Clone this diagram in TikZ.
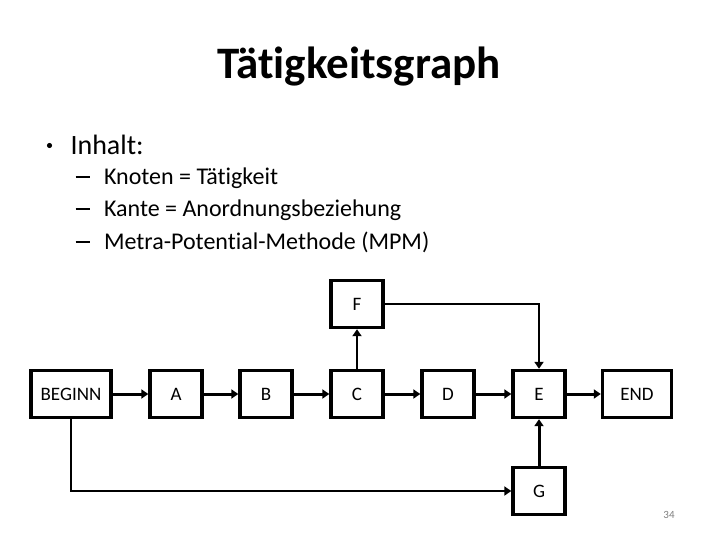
\documentclass[tikz,border=0pt]{standalone}
\usepackage{fontspec}
\setmainfont{Carlito}[Ligatures=NoCommon]
\usetikzlibrary{arrows.meta}
\definecolor{slidegray}{RGB}{128,128,128}
\tikzset{
  act/.style={draw,line width=3.4pt,minimum width=52pt,minimum height=47pt,inner sep=0pt,font=\fontsize{19}{22}\selectfont},
  flow/.style={line width=3pt,-{Triangle[length=7pt,width=9pt]}},
  thinflow/.style={line width=2pt,-{Triangle[length=7pt,width=9pt]}}
}
\begin{document}
\begin{tikzpicture}[x=1pt,y=-1pt]
  \useasboundingbox[fill=white] (0,0) rectangle (720,540);
  \node (title) at (359,67) {\fontsize{45}{50}\selectfont\bfseries Tätigkeitsgraph};
  \fill (49.5,145.5) circle (2.6pt);
  \node[anchor=west] (bul) at (67,145) {\fontsize{28}{32}\selectfont Inhalt:};
  \foreach \t [count=\i] in {Knoten = Tätigkeit,Kante = Anordnungsbeziehung,Metra-Potential-Methode (MPM)}
    \node[anchor=west] (item\i) at (72,146+32*\i) {\fontsize{24}{28}\selectfont \rule[6.5pt]{14pt}{1.4pt}\hspace{14.5pt}\t};
  \node[act,minimum width=80pt] (beginn) at (71,394) {BEGINN};
  \node[act] (a) at (176,394) {A};
  \node[act] (b) at (266,394) {B};
  \node[act] (c) at (357,394) {C};
  \node[act] (d) at (448,394) {D};
  \node[act] (e) at (539,394) {E};
  \node[act,minimum width=69pt] (end) at (637,394) {END};
  \node[act] (f) at (357,304) {F};
  \node[act] (g) at (539,491) {G};
  \foreach \u/\v in {beginn/a,a/b,b/c,c/d,d/e,e/end}
    \draw[flow] (\u) -- (\v);
  \draw[thinflow] (c) -- (f);
  \draw[flow] (g) -- (e);
  \draw[thinflow] (f.east) -| (e.north);
  \draw[thinflow] (beginn.south) |- (g.west);
  \node[text=slidegray,font=\fontsize{11}{13}\selectfont] (page) at (669,515) {34};
\end{tikzpicture}
\end{document}
